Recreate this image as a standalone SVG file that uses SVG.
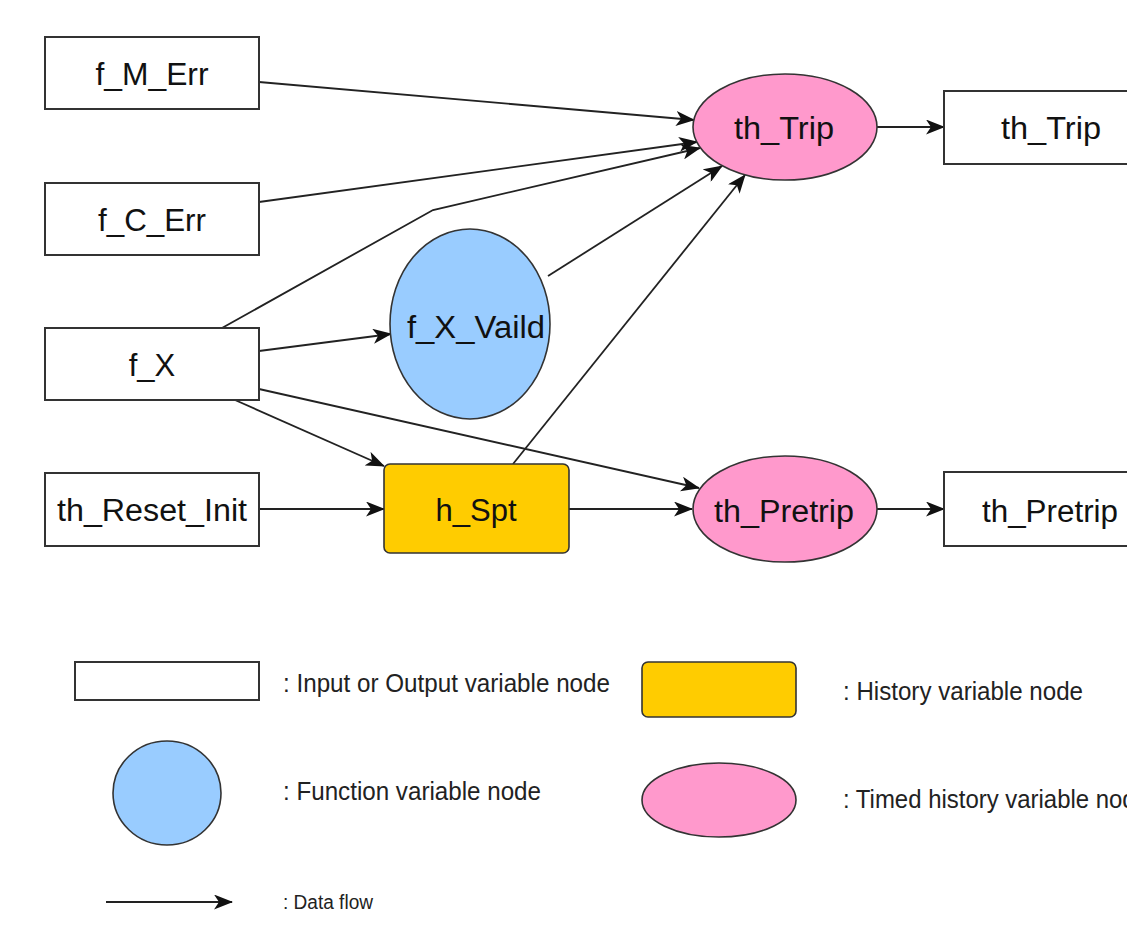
<svg xmlns="http://www.w3.org/2000/svg" width="1127" height="928" viewBox="0 0 1127 928">
  <style>
    .box { fill: #ffffff; stroke: #333333; stroke-width: 2; }
    .fn { fill: #99ccff; stroke: #333333; stroke-width: 1.6; }
    .hist { fill: #ffcc00; stroke: #333333; stroke-width: 1.6; }
    .timed { fill: #ff99cc; stroke: #333333; stroke-width: 1.6; }
    .lbl { font-family: "Liberation Sans", Arial, sans-serif; font-size: 31px; fill: #111111; text-anchor: middle; }
    .leg { font-family: "Liberation Sans", Arial, sans-serif; font-size: 25px; fill: #222222; }
    .edge { fill: none; stroke: #222222; stroke-width: 1.8; marker-end: url(#arrow); }
  </style>
  <defs>
    <marker id="arrow" markerUnits="userSpaceOnUse" viewBox="0 0 19 15" refX="18" refY="7.5" markerWidth="19" markerHeight="15" orient="auto">
      <path d="M0,0 L19,7.5 L0,15 L5,7.5 Z" fill="#111111"/>
    </marker>
  </defs>
  <rect width="1127" height="928" fill="#ffffff"/>

  <g id="connectors">
    <path class="edge" d="M259,82 L694,120"/>
    <path class="edge" d="M259,202 L697,142"/>
    <path class="edge" d="M222,328 L433,210 L700,148"/>
    <path class="edge" d="M548,276 L722,166"/>
    <path class="edge" d="M513,464 L745,175"/>
    <path class="edge" d="M259,351 L391,334"/>
    <path class="edge" d="M259,389 L699,488"/>
    <path class="edge" d="M235,400 L384,466"/>
    <path class="edge" d="M259,509 L384,509"/>
    <path class="edge" d="M569,509 L692,509"/>
    <path class="edge" d="M877,127 L944,127"/>
    <path class="edge" d="M877,509 L944,509"/>
  </g>

  <g id="n_f_M_Err">
    <rect class="box" x="45" y="37" width="214" height="72"/>
    <text class="lbl" x="152" y="85" textLength="113" lengthAdjust="spacingAndGlyphs">f_M_Err</text>
  </g>
  <g id="n_f_C_Err">
    <rect class="box" x="45" y="183" width="214" height="72"/>
    <text class="lbl" x="152" y="231" textLength="108" lengthAdjust="spacingAndGlyphs">f_C_Err</text>
  </g>
  <g id="n_f_X">
    <rect class="box" x="45" y="328" width="214" height="72"/>
    <text class="lbl" x="152" y="376">f_X</text>
  </g>
  <g id="n_th_Reset_Init">
    <rect class="box" x="45" y="473" width="214" height="73"/>
    <text class="lbl" x="152" y="521" textLength="190" lengthAdjust="spacingAndGlyphs">th_Reset_Init</text>
  </g>
  <g id="n_f_X_Vaild">
    <ellipse class="fn" cx="470" cy="324" rx="80" ry="95"/>
    <text class="lbl" x="476" y="338" textLength="138" lengthAdjust="spacingAndGlyphs">f_X_Vaild</text>
  </g>
  <g id="n_h_Spt">
    <rect class="hist" x="384" y="464" width="185" height="89" rx="6" ry="6"/>
    <text class="lbl" x="476" y="521">h_Spt</text>
  </g>
  <g id="n_th_Trip">
    <ellipse class="timed" cx="785" cy="127" rx="92" ry="53"/>
    <text class="lbl" x="784" y="139" textLength="100" lengthAdjust="spacingAndGlyphs">th_Trip</text>
  </g>
  <g id="n_th_Pretrip">
    <ellipse class="timed" cx="785" cy="509" rx="92" ry="53"/>
    <text class="lbl" x="784" y="522" textLength="140" lengthAdjust="spacingAndGlyphs">th_Pretrip</text>
  </g>
  <g id="n_th_Trip_out">
    <rect class="box" x="944" y="91" width="214" height="73"/>
    <text class="lbl" x="1051" y="139" textLength="100" lengthAdjust="spacingAndGlyphs">th_Trip</text>
  </g>
  <g id="n_th_Pretrip_out">
    <rect class="box" x="944" y="472" width="214" height="74"/>
    <text class="lbl" x="1050" y="522" textLength="136" lengthAdjust="spacingAndGlyphs">th_Pretrip</text>
  </g>

  <g id="legend">
    <rect class="box" x="75" y="662" width="184" height="38"/>
    <text class="leg" x="283" y="692" textLength="327" lengthAdjust="spacingAndGlyphs">: Input or Output variable node</text>
    <ellipse class="fn" cx="167" cy="793" rx="54" ry="52"/>
    <text class="leg" x="283" y="800" textLength="258" lengthAdjust="spacingAndGlyphs">: Function variable node</text>
    <path class="edge" d="M106,902 L232,902"/>
    <text class="leg" x="283" y="909" style="font-size:20px" textLength="90" lengthAdjust="spacingAndGlyphs">: Data flow</text>
    <rect class="hist" x="642" y="662" width="154" height="55" rx="6" ry="6"/>
    <text class="leg" x="843" y="700" textLength="240" lengthAdjust="spacingAndGlyphs">: History variable node</text>
    <ellipse class="timed" cx="719" cy="800" rx="77" ry="37"/>
    <text class="leg" x="843" y="808" textLength="306" lengthAdjust="spacingAndGlyphs">: Timed history variable node</text>
  </g>
</svg>
